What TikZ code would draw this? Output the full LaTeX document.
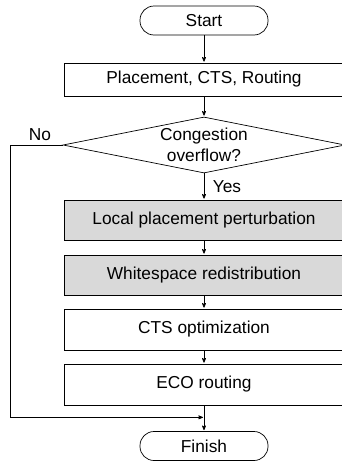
\documentclass[tikz,border=0pt]{standalone}
\usepackage{fontspec}
\setmainfont{Liberation Sans}
\usetikzlibrary{arrows,positioning,shapes.geometric}
\definecolor{stepgray}{RGB}{217,217,217}

\begin{document}
\begin{tikzpicture}[>=stealth',shorten >=1pt,on grid,
    font=\fontsize{17.3}{20.5}\selectfont,
    every path/.style={line width=0.7pt},
    term/.style    ={draw,rounded corners=14pt,minimum width=128pt,minimum height=29pt,inner sep=0pt},
    stepbox/.style ={draw,minimum width=280pt,minimum height=40pt,inner sep=0pt},
    greybox/.style ={stepbox,fill=stepgray},
    decide/.style  ={draw,diamond,aspect=5,minimum width=282pt,minimum height=56pt,inner sep=0pt,align=center}]
				  \useasboundingbox (0,0) rectangle (341pt,-461pt);
				  \node[term]          (start) at (204pt,-20.5pt)  {Start};
				  \node[stepbox,minimum height=33pt] (pcr) [below=59pt of start]    {Placement, CTS, Routing};
				  \node[decide]        (cong) [below=65.5pt of pcr]  {Congestion\\overflow?};
				  \node[greybox]       (local) [below=75pt of cong]  {Local placement perturbation};
				  \node[greybox]       (white) [below=55pt of local] {Whitespace redistribution};
				  \node[stepbox,minimum height=41pt] (ctsopt) [below=54.5pt of white] {CTS optimization};
				  \node[stepbox,minimum height=41pt] (eco) [below=55pt of ctsopt]   {ECO routing};
				  \node[term]          (finish) [below=61.5pt of eco] {Finish};
				  \coordinate          (merge) at ([yshift=-12pt]eco.south);
				  \coordinate          (corner) at (10pt,-145pt);

				\path (start)  edge [->]  (pcr)
					  (pcr)    edge [->]  (cong)
					  (cong)   edge [->]  node [right=23pt,anchor=center] {Yes} (local)
					  (local)  edge [->]  (white)
					  (white)  edge [->]  (ctsopt)
					  (ctsopt) edge [->]  (eco)
					  (eco)    edge [->]  (finish);
				\draw[->] (cong.west) -- node [above=10pt,anchor=center,pos=0.43] {No} (corner) |- (merge);
			\end{tikzpicture}
\end{document}
